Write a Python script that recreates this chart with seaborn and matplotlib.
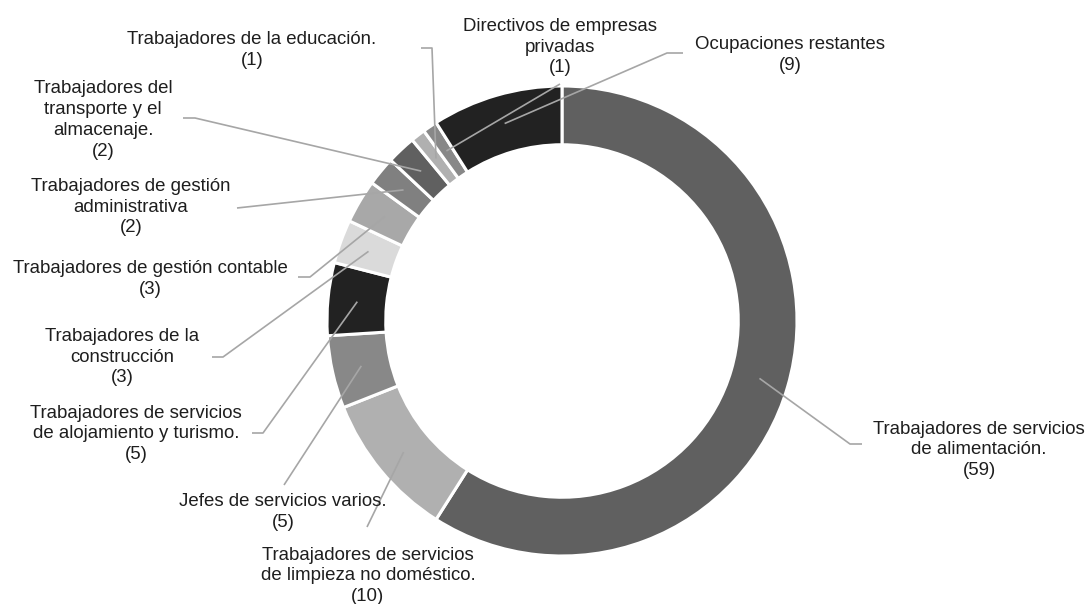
import numpy as np
import matplotlib.pyplot as plt
import seaborn as sns

# Ocupaciones (orden horario desde arriba) y cantidades
ocupaciones = [
    "Trabajadores de servicios\nde alimentación.",
    "Trabajadores de servicios\nde limpieza no doméstico.",
    "Jefes de servicios varios.",
    "Trabajadores de servicios\nde alojamiento y turismo.",
    "Trabajadores de la\nconstrucción",
    "Trabajadores de gestión contable",
    "Trabajadores de gestión\nadministrativa",
    "Trabajadores del\ntransporte y el\nalmacenaje.",
    "Trabajadores de la educación.",
    "Directivos de empresas\nprivadas",
    "Ocupaciones restantes",
]
cantidades = [59, 10, 5, 5, 3, 3, 2, 2, 1, 1, 9]

colores = ["#606060", "#b0b0b0", "#888888", "#222222", "#dadada", "#a8a8a8",
           "#808080", "#606060", "#b0b0b0", "#888888", "#222222"]

# layout (pixels of the 1086x604 figure): label centre and leader line points
W, H = 1086, 604
CX, CY, R = 562, 321, 235
label_pos = [(979, 450), (368, 576), (283, 512), (136, 434), (122, 357), (150, 279),
             (131, 207), (103, 120), (252, 50), (560, 47), (790, 55)]
leader_pts = [
    [(862, 444), (850, 444)],
    [(367, 527)],
    [(284, 485)],
    [(252, 433), (263, 433)],
    [(212, 357), (223, 357)],
    [(298, 277), (310, 277)],
    [(237, 208)],
    [(183, 118), (195, 118)],
    [(421, 48), (432, 48)],
    [(560, 84)],
    [(683, 53), (667, 53)],
]


def px(x, y):
    return (x - CX) / R, (CY - y) / R


sns.set_theme(style="white")
plt.rcParams['font.family'] = ['Liberation Sans', 'DejaVu Sans']

fig = plt.figure(figsize=(W / 100, H / 100), dpi=100)
ax = fig.add_axes([0, 0, 1, 1])

ax.pie(cantidades, colors=colores, startangle=90, counterclock=False, radius=1,
       wedgeprops=dict(width=0.25, edgecolor='white', linewidth=2.2))

total = sum(cantidades)
acum = np.cumsum([0] + cantidades[:-1])
for i, (nombre, v) in enumerate(zip(ocupaciones, cantidades)):
    ang = np.deg2rad(90 - (acum[i] + v / 2) / total * 360)
    ancla = (0.875 * np.cos(ang), 0.875 * np.sin(ang))
    pts = [px(*p) for p in leader_pts[i]] + [ancla]
    ax.plot([p[0] for p in pts], [p[1] for p in pts], color='#a6a6a6', lw=1.2,
            solid_capstyle='butt', zorder=3)
    tx, ty = px(*label_pos[i])
    ax.text(tx, ty, f"{nombre}\n({v})", ha='center', va='center', fontsize=13.4,
            color='#1e1e1e', linespacing=1.3, zorder=4)

ax.set_xlim(px(0, 0)[0], px(W, 0)[0])
ax.set_ylim(px(0, H)[1], px(0, 0)[1])
ax.set_aspect('equal')
ax.axis('off')

fig.savefig('out.png', dpi=100, facecolor='white')
